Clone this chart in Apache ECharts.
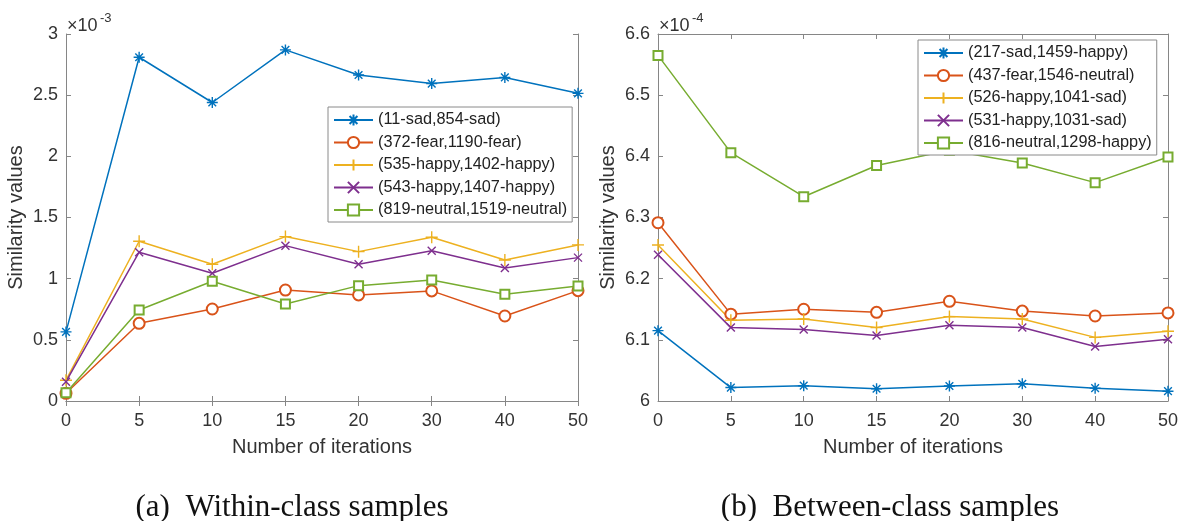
<!DOCTYPE html>
<html>
<head>
<meta charset="utf-8">
<script src="https://cdn.jsdelivr.net/npm/echarts@6/dist/echarts.min.js"></script>
<style>
  html, body { margin: 0; padding: 0; background: #fff; }
  #chart { width: 1181px; height: 521px; }
</style>
</head>
<body>
<div id="chart"></div>
<script>
// iterations (x axis, both panels)
var iterations = ['0', '5', '10', '15', '20', '30', '40', '50'];

// (a) within-class samples, values in units of 1e-3
var withinNames = ['(11-sad,854-sad)', '(372-fear,1190-fear)', '(535-happy,1402-happy)',
                   '(543-happy,1407-happy)', '(819-neutral,1519-neutral)'];
var within0 = [0.565, 2.81, 2.44, 2.87, 2.665, 2.595, 2.645, 2.515];
var within1 = [0.063, 0.635, 0.752, 0.907, 0.867, 0.900, 0.695, 0.902];
var within2 = [0.170, 1.306, 1.118, 1.344, 1.221, 1.338, 1.153, 1.276];
var within3 = [0.158, 1.216, 1.044, 1.270, 1.118, 1.229, 1.087, 1.172];
var within4 = [0.068, 0.744, 0.979, 0.793, 0.943, 0.989, 0.872, 0.940];

// (b) between-class samples, values in units of 1e-4
var betweenNames = ['(217-sad,1459-happy)', '(437-fear,1546-neutral)', '(526-happy,1041-sad)',
                    '(531-happy,1031-sad)', '(816-neutral,1298-happy)'];
var between0 = [6.115, 6.022, 6.025, 6.020, 6.0245, 6.028, 6.021, 6.016];
var between1 = [6.2915, 6.142, 6.150, 6.145, 6.163, 6.147, 6.139, 6.144];
var between2 = [6.255, 6.132, 6.134, 6.120, 6.138, 6.134, 6.104, 6.114];
var between3 = [6.239, 6.120, 6.117, 6.107, 6.124, 6.120, 6.089, 6.101];
var between4 = [6.565, 6.406, 6.334, 6.385, 6.410, 6.389, 6.357, 6.399];

var colors = ['#0072BD', '#D95319', '#EDB120', '#7E2F8E', '#77AC30'];
var symbols = [
    'path://M5,0L5,10M0,5L10,5M1.5,1.5L8.5,8.5M1.5,8.5L8.5,1.5',
    'emptyCircle',
    'path://M5,0L5,10M0,5L10,5',
    'path://M0,0L10,10M0,10L10,0',
    'emptyRect'
];
var symbolSizes = [11, 11, 12, 8, 9];

var font = 'Liberation Sans, Arial, sans-serif';
var axisColor = '#868686';
var textColor = '#333333';

function makeSeries(names, lists, axisIdx) {
    var out = [];
    for (var i = 0; i < lists.length; i++) {
        out.push({
            name: names[i],
            type: 'line',
            xAxisIndex: axisIdx,
            yAxisIndex: axisIdx,
            data: lists[i],
            symbol: symbols[i],
            symbolSize: symbolSizes[i],
            color: colors[i],
            lineStyle: { width: 1.5, color: colors[i] },
            itemStyle: { color: colors[i], borderColor: colors[i], borderWidth: 1.4 },
            emphasis: { disabled: true },
            animation: false
        });
    }
    return out;
}

function xAxes(gridIdx) {
    return [{
        type: 'category', gridIndex: gridIdx, data: iterations, boundaryGap: false,
        axisLine: { lineStyle: { color: axisColor, width: 1 } },
        axisTick: { inside: true, length: 5, lineStyle: { color: axisColor } },
        axisLabel: { color: textColor, fontSize: 18, fontFamily: font, margin: 11 },
        name: 'Number of iterations', nameLocation: 'middle', nameGap: 36,
        nameTextStyle: { color: textColor, fontSize: 20, fontFamily: font },
        splitLine: { show: false }
    }, {
        type: 'category', gridIndex: gridIdx, data: iterations, boundaryGap: false, position: 'top',
        axisLine: { lineStyle: { color: axisColor, width: 1 } },
        axisTick: { inside: true, length: 5, lineStyle: { color: axisColor } },
        axisLabel: { show: false },
        splitLine: { show: false }
    }];
}

function yAxes(gridIdx, min, max, step) {
    return [{
        type: 'value', gridIndex: gridIdx, min: min, max: max, interval: step,
        axisLine: { show: true, lineStyle: { color: axisColor, width: 1 } },
        axisTick: { show: true, inside: true, length: 5, lineStyle: { color: axisColor } },
        axisLabel: { color: textColor, fontSize: 18, fontFamily: font, margin: 8 },
        name: 'Similarity values', nameLocation: 'middle', nameGap: 40,
        nameTextStyle: { color: textColor, fontSize: 20, fontFamily: font },
        splitLine: { show: false }
    }, {
        type: 'value', gridIndex: gridIdx, min: min, max: max, interval: step, position: 'right',
        axisLine: { show: true, lineStyle: { color: axisColor, width: 1 } },
        axisTick: { show: true, inside: true, length: 5, lineStyle: { color: axisColor } },
        axisLabel: { show: false },
        splitLine: { show: false }
    }];
}

function legendAt(names, left, top) {
    return {
        data: names, orient: 'vertical', left: left, top: top,
        itemWidth: 39, itemHeight: 14, itemGap: 6.5,
        padding: [5, 5, 4, 5],
        backgroundColor: '#fff', borderColor: '#8a8a8a', borderWidth: 1, borderRadius: 0,
        textStyle: { color: '#222', fontSize: 16.3, fontFamily: font },
        selectedMode: false
    };
}

var chart = echarts.init(document.getElementById('chart'));
chart.setOption({
    backgroundColor: '#fff',
    animation: false,
    grid: [
        { left: 66, top: 34, width: 512, height: 367, containLabel: false },
        { left: 658, top: 34, width: 512, height: 367, containLabel: false }
    ],
    xAxis: xAxes(0).concat(xAxes(1)),
    yAxis: yAxes(0, 0, 3, 0.5).concat(yAxes(1, 6, 6.6, 0.1)),
    legend: [legendAt(withinNames, 328, 107), legendAt(betweenNames, 918, 40)],
    series: makeSeries(withinNames, [within0, within1, within2, within3, within4], 0)
        .concat(makeSeries(betweenNames, [between0, between1, between2, between3, between4], 2)),
    graphic: [
        { type: 'text', x: 67, y: 26, style: { text: '×10', fill: textColor, font: '18px ' + font, verticalAlign: 'middle' } },
        { type: 'text', x: 100, y: 18, style: { text: '-3', fill: textColor, font: '13px ' + font, verticalAlign: 'middle' } },
        { type: 'text', x: 659, y: 26, style: { text: '×10', fill: textColor, font: '18px ' + font, verticalAlign: 'middle' } },
        { type: 'text', x: 692, y: 18, style: { text: '-4', fill: textColor, font: '13px ' + font, verticalAlign: 'middle' } },
        { type: 'text', x: 292, y: 508, style: { text: '(a)  Within-class samples', fill: '#111', font: '31px Liberation Serif, serif', align: 'center', verticalAlign: 'middle' } },
        { type: 'text', x: 890, y: 508, style: { text: '(b)  Between-class samples', fill: '#111', font: '31px Liberation Serif, serif', align: 'center', verticalAlign: 'middle' } }
    ]
});
</script>
</body>
</html>
